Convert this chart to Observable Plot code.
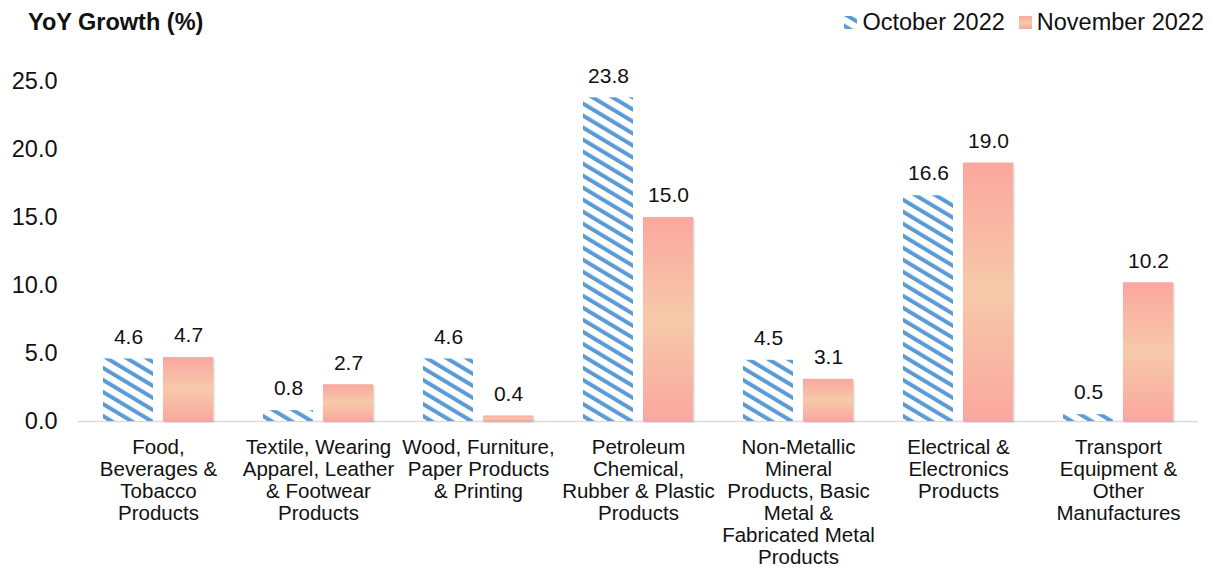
<!DOCTYPE html>
<html>
<head>
<meta charset="utf-8">
<script src="https://cdn.jsdelivr.net/npm/d3@7"></script>
<script src="https://cdn.jsdelivr.net/npm/@observablehq/plot@0.6"></script>
<style>
  html, body { margin: 0; padding: 0; background: #fff; }
  body { width: 1214px; height: 581px; position: relative; overflow: hidden; font-family: "Liberation Sans", Arial, sans-serif; color: #111; }
  #header { position: relative; height: 44px; width: 1214px; }
  #title { position: absolute; left: 28px; top: 8px; font-weight: bold; font-size: 23.5px; line-height: 28px; }
  #legend { position: absolute; right: 10px; top: 8px; font-size: 23.5px; line-height: 28px; display: flex; align-items: center; }
  #legend .item { display: flex; align-items: center; margin-left: 14px; }
  #legend svg { margin-right: 5px; }
</style>
</head>
<body>
<svg width="0" height="0" style="position:absolute">
  <defs>
    <pattern id="hatch" patternUnits="userSpaceOnUse" width="10.3" height="10.3" patternTransform="rotate(-59)">
      <rect width="10.3" height="10.3" fill="#ffffff"></rect>
      <rect width="4" height="10.3" fill="#5b9bd5"></rect>
    </pattern>
    <linearGradient id="pinkgrad" x1="0" y1="0" x2="0" y2="1">
      <stop offset="0" stop-color="#fba79f"></stop>
      <stop offset="0.5" stop-color="#f6c9a9"></stop>
      <stop offset="1" stop-color="#fba79f"></stop>
    </linearGradient>
  </defs>
</svg>
<div id="header">
  <div id="title">YoY Growth (%)</div>
  <div id="legend"></div>
</div>
<div id="chart"></div>
<script>
// ---- Data ----
const categories = [
  "Food, Beverages & Tobacco Products",
  "Textile, Wearing Apparel, Leather & Footwear Products",
  "Wood, Furniture, Paper Products & Printing",
  "Petroleum Chemical, Rubber & Plastic Products",
  "Non-Metallic Mineral Products, Basic Metal & Fabricated Metal Products",
  "Electrical & Electronics Products",
  "Transport Equipment & Other Manufactures"
];
const categoryLabels = [
  "Food,\nBeverages &\nTobacco\nProducts",
  "Textile, Wearing\nApparel, Leather\n& Footwear\nProducts",
  "Wood, Furniture,\nPaper Products\n& Printing",
  "Petroleum\nChemical,\nRubber & Plastic\nProducts",
  "Non-Metallic\nMineral\nProducts, Basic\nMetal &\nFabricated Metal\nProducts",
  "Electrical &\nElectronics\nProducts",
  "Transport\nEquipment &\nOther\nManufactures"
];
const seriesNames = ["October 2022", "November 2022"];
const october2022 = [4.6, 0.8, 4.6, 23.8, 4.5, 16.6, 0.5];
const november2022 = [4.7, 2.7, 0.4, 15.0, 3.1, 19.0, 10.2];
const yTicks = [0, 5, 10, 15, 20, 25];
const seriesFills = ["url(#hatch)", "url(#pinkgrad)"];

// ---- Table ----
const rows = [];
categories.forEach((c, i) => {
  rows.push({category: c, series: seriesNames[0], value: october2022[i]});
  rows.push({category: c, series: seriesNames[1], value: november2022[i]});
});
const labelOf = new Map(categories.map((c, i) => [c, categoryLabels[i]]));

// ---- Legend ----
const legend = document.getElementById("legend");
seriesNames.forEach((s, i) => {
  const item = document.createElement("div");
  item.className = "item";
  item.innerHTML = `<svg width="13" height="13"><rect width="13" height="13" fill="${seriesFills[i]}"></rect></svg><span>${s}</span>`;
  legend.appendChild(item);
});

// ---- Chart ----
const chart = Plot.plot({
  width: 1214,
  height: 537,
  marginLeft: 78,
  marginRight: 16,
  marginTop: 37,
  marginBottom: 160,
  style: {fontFamily: "'Liberation Sans', Arial, sans-serif", color: "#111", background: "transparent"},
  fx: {domain: categories, padding: 0},
  x: {domain: seriesNames, paddingInner: 1 / 6, paddingOuter: 0.4167, round: false, axis: null},
  y: {domain: [0, 25]},
  marks: [
    Plot.ruleY([0], {stroke: "#d9d9d9", strokeWidth: 1.5}),
    Plot.barY(rows.filter(d => d.series === seriesNames[0]), {
      fx: "category", x: "series", y: "value", fill: seriesFills[0]
    }),
    Plot.barY(rows.filter(d => d.series === seriesNames[1]), {
      fx: "category", x: "series", y: "value", fill: seriesFills[1],
      imageFilter: "drop-shadow(1.5px 1.5px 1.2px rgba(0,0,0,0.22))"
    }),
    Plot.text(rows, {
      fx: "category", x: "series", y: "value",
      text: d => d.value.toFixed(1), dy: -22, fontSize: 21, fill: "#111"
    }),
    Plot.axisY({
      ticks: yTicks, tickFormat: d => d.toFixed(1), tickSize: 0, tickPadding: 21,
      fontSize: 23.5, label: null
    }),
    Plot.axisFx({
      anchor: "bottom", tickFormat: d => labelOf.get(d), tickSize: 0, tickPadding: 17,
      fontSize: 20.5, lineHeight: 1.07, label: null
    })
  ]
});
document.getElementById("chart").appendChild(chart);
</script>
</body>
</html>
